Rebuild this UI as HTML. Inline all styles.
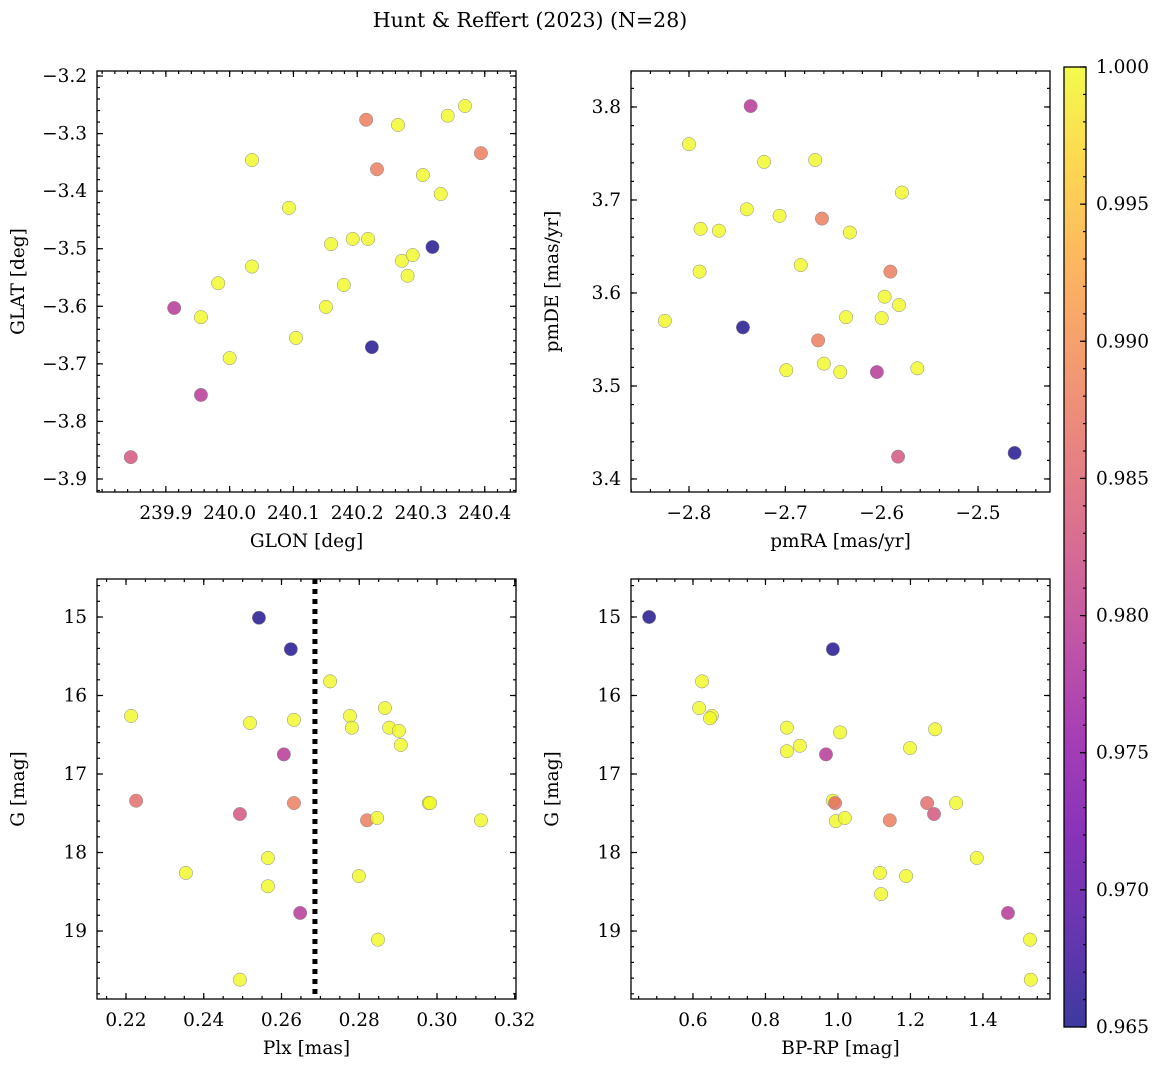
<!DOCTYPE html>
<html><head><meta charset="utf-8"><style>
body{margin:0;background:#fff}
svg text{font-family:"DejaVu Serif","Liberation Serif",serif;fill:#000}
</style></head><body>
<svg id="fig" width="1161" height="1067" xmlns="http://www.w3.org/2000/svg">
<text x="530" y="27" font-size="20.5" text-anchor="middle">Hunt &amp; Reffert (2023) (N=28)</text>
</svg>
<script>
// ---- data ----
const glon=[239.845,239.913,239.955,239.955,239.982,240.000,240.035,240.035,240.093,240.104,240.151,240.159,240.179,240.193,240.214,240.217,240.223,240.231,240.264,240.270,240.279,240.287,240.303,240.318,240.331,240.342,240.369,240.394];
const glat=[-3.862,-3.603,-3.754,-3.619,-3.560,-3.690,-3.346,-3.531,-3.429,-3.655,-3.601,-3.492,-3.563,-3.483,-3.276,-3.483,-3.671,-3.362,-3.285,-3.521,-3.547,-3.511,-3.372,-3.497,-3.405,-3.269,-3.252,-3.334];
const probA=[0.983,0.979,0.979,1,1,1,1,1,1,1,1,1,1,1,0.988,1,0.9655,0.988,1,1,1,1,1,0.9655,1,1,1,0.988];
const pmra=[-2.825,-2.800,-2.788,-2.789,-2.769,-2.740,-2.744,-2.736,-2.722,-2.706,-2.699,-2.684,-2.669,-2.666,-2.662,-2.660,-2.643,-2.637,-2.633,-2.605,-2.600,-2.597,-2.591,-2.583,-2.582,-2.579,-2.563,-2.462];
const pmde=[3.570,3.760,3.669,3.623,3.667,3.690,3.563,3.801,3.741,3.683,3.517,3.630,3.743,3.549,3.680,3.524,3.515,3.574,3.665,3.515,3.573,3.596,3.623,3.424,3.587,3.708,3.519,3.428];
const probB=[1,1,1,1,1,1,0.9655,0.979,1,1,1,1,1,0.988,0.988,1,1,1,1,0.979,1,1,0.988,0.983,1,1,1,0.9655];
const plx=[0.2213,0.2226,0.2354,0.2493,0.2493,0.2519,0.2542,0.2565,0.2565,0.2606,0.2624,0.2632,0.2632,0.2648,0.2725,0.2776,0.2781,0.2799,0.2820,0.2846,0.2848,0.2866,0.2877,0.2902,0.2907,0.2979,0.2982,0.3113];
const gC=[16.26,17.34,18.26,19.62,17.51,16.35,15.01,18.07,18.43,16.75,15.41,16.31,17.37,18.77,15.82,16.26,16.41,18.30,17.59,17.56,19.11,16.16,16.41,16.45,16.63,17.37,17.37,17.59];
const probC=[1,0.986,1,1,0.983,1,0.9655,1,1,0.979,0.9655,1,0.988,0.979,1,1,1,1,0.988,1,1,1,1,1,1,1,1,1];
const bprp=[0.479,0.625,0.617,0.652,0.647,0.859,0.859,0.895,0.967,0.986,0.986,0.992,0.994,1.006,1.019,1.116,1.119,1.143,1.188,1.199,1.246,1.265,1.268,1.326,1.383,1.469,1.530,1.532];
const gD=[15.00,15.82,16.16,16.26,16.29,16.41,16.71,16.64,16.75,15.41,17.34,17.37,17.60,16.47,17.56,18.26,18.53,17.59,18.30,16.67,17.37,17.51,16.43,17.37,18.07,18.77,19.11,19.62];
const probD=[0.9655,1,1,1,1,1,1,1,0.979,0.9655,1,0.986,1,1,1,1,1,0.988,1,1,0.986,0.983,1,1,1,0.979,1,1];
const plxCut=0.2686;
const cbTicks=[0.965,0.970,0.975,0.980,0.985,0.990,0.995,1.000];

const NS="http://www.w3.org/2000/svg";
const svg=document.getElementById('fig');
function mk(tag,at,parent){const e=document.createElementNS(NS,tag);for(const k in at)e.setAttribute(k,at[k]);(parent||svg).appendChild(e);return e;}
const stops=[[13,8,135],[65,4,157],[106,0,168],[143,13,164],[177,42,144],[204,71,120],[225,100,98],[242,132,75],[252,166,54],[252,206,37],[240,249,33]];
function plasma(t){t=Math.max(0,Math.min(1,t));const f=t*10,i=Math.min(9,Math.floor(f)),r=f-i;const a=stops[i],b=stops[i+1];return 'rgb('+[0,1,2].map(k=>Math.round(a[k]+(b[k]-a[k])*r)).join(',')+')';}
const cmin=0.965,cmax=1.0;
const FS=18.5;

function panel(name,box,xr,yr,xt,yt,xminor,yminor,xfmt,yfmt,xlab,ylab,xs,ys,ps,invertY){
  const [L,T,R,B]=box;
  const g=mk('g',{});
  
  
  const X=v=>L+(v-xr[0])/(xr[1]-xr[0])*(R-L);
  const Y=invertY?(v=>T+(v-yr[0])/(yr[1]-yr[0])*(B-T)):(v=>B-(v-yr[0])/(yr[1]-yr[0])*(B-T));
  for(let i=0;i<xs.length;i++){
    const c=mk('circle',{cx:X(xs[i]),cy:Y(ys[i]),r:6.7,fill:plasma((ps[i]-cmin)/(cmax-cmin)),'fill-opacity':0.8,stroke:'#888','stroke-width':0.5},g);
    
    
  }
  const tk=mk('g',{stroke:'#000','stroke-width':1.2},g);
  const lo=Math.min(xr[0],xr[1]),hi=Math.max(xr[0],xr[1]);
  for(let v=Math.ceil(lo/xminor-1e-6)*xminor;v<=hi+1e-9;v+=xminor){const x=X(v);mk('line',{x1:x,x2:x,y1:B,y2:B-3},tk);mk('line',{x1:x,x2:x,y1:T,y2:T+3},tk);}
  const ylo=Math.min(yr[0],yr[1]),yhi=Math.max(yr[0],yr[1]);
  for(let v=Math.ceil(ylo/yminor-1e-6)*yminor;v<=yhi+1e-9;v+=yminor){const y=Y(v);mk('line',{x1:L,x2:L+3,y1:y,y2:y},tk);mk('line',{x1:R,x2:R-3,y1:y,y2:y},tk);}
  xt.forEach(v=>{const x=X(v);mk('line',{x1:x,x2:x,y1:B,y2:B-6},tk);mk('line',{x1:x,x2:x,y1:T,y2:T+6},tk);
    const t=mk('text',{x:x,y:B+27,'font-size':FS,'text-anchor':'middle'},g);t.textContent=xfmt(v);
    });
  yt.forEach(v=>{const y=Y(v);mk('line',{x1:L,x2:L+6,y1:y,y2:y},tk);mk('line',{x1:R,x2:R-6,y1:y,y2:y},tk);
    const t=mk('text',{x:L-10,y:y+6,'font-size':FS,'text-anchor':'end'},g);t.textContent=yfmt(v);
    });
  const fr=mk('rect',{x:L,y:T,width:R-L,height:B-T,fill:'none',stroke:'#000','stroke-width':1.3},g);
  
  const xl=mk('text',{x:(L+R)/2,y:B+55,'font-size':FS,'text-anchor':'middle'},g);xl.textContent=xlab;
  
  const yl=mk('text',{x:0,y:0,'font-size':FS,'text-anchor':'middle',transform:`translate(${L-73},${(T+B)/2}) rotate(-90)`},g);yl.textContent=ylab;
  
  return {X,Y,g};
}
const minus=s=>s.replace('-','\u2212');
const f1=v=>minus(v.toFixed(1)), f2=v=>minus(v.toFixed(2)), f0=v=>v.toFixed(0);
panel('glon-glat-panel',[97,71,516,492],[239.792,240.449],[-3.9226,-3.1913],[239.9,240.0,240.1,240.2,240.3,240.4],[-3.9,-3.8,-3.7,-3.6,-3.5,-3.4,-3.3,-3.2],0.02,0.02,f1,f1,'GLON [deg]','GLAT [deg]',glon,glat,probA,false);
panel('proper-motion-panel',[631,71,1050,492],[-2.8602,-2.4253],[3.386,3.8387],[-2.8,-2.7,-2.6,-2.5],[3.4,3.5,3.6,3.7,3.8],0.02,0.02,f1,f1,'pmRA [mas/yr]','pmDE [mas/yr]',pmra,pmde,probB,false);
const pc=panel('plx-g-panel',[97,579,516,999],[0.21254,0.32032],[14.516,19.866],[0.22,0.24,0.26,0.28,0.30,0.32],[15,16,17,18,19],0.005,0.2,f2,f0,'Plx [mas]','G [mag]',plx,gC,probC,true);
const dl=mk('line',{x1:pc.X(plxCut),x2:pc.X(plxCut),y1:579,y2:999,stroke:'#000','stroke-width':5,'stroke-dasharray':'5,5'},pc.g);

panel('cmd-panel',[631,579,1050,999],[0.429,1.585],[14.516,19.866],[0.6,0.8,1.0,1.2,1.4],[15,16,17,18,19],0.05,0.2,f1,f0,'BP-RP [mag]','G [mag]',bprp,gD,probD,true);
const cb=mk('g',{});


const defs=mk('defs',{},cb);
const lg=mk('linearGradient',{id:'pl',x1:0,y1:1,x2:0,y2:0},defs);
for(let i=0;i<=20;i++)mk('stop',{offset:i/20,'stop-color':plasma(i/20),'stop-opacity':0.8},lg);
const CT=67,CB=1027,CL=1064,CR=1086;
mk('rect',{x:CL,y:CT,width:CR-CL,height:CB-CT,fill:'url(#pl)',stroke:'#000','stroke-width':1.3},cb);
const CY=v=>CB-(v-cmin)/(cmax-cmin)*(CB-CT);
for(let v=cmin;v<=cmax+1e-9;v+=0.001)mk('line',{x1:CR,x2:CR-3,y1:CY(v),y2:CY(v),stroke:'#000','stroke-width':1.2},cb);
cbTicks.forEach(v=>{mk('line',{x1:CR,x2:CR-6,y1:CY(v),y2:CY(v),stroke:'#000','stroke-width':1.2},cb);
  const t=mk('text',{x:CR+10,y:CY(v)+6,'font-size':FS},cb);t.textContent=v.toFixed(3);
  });
</script>
</body></html>
